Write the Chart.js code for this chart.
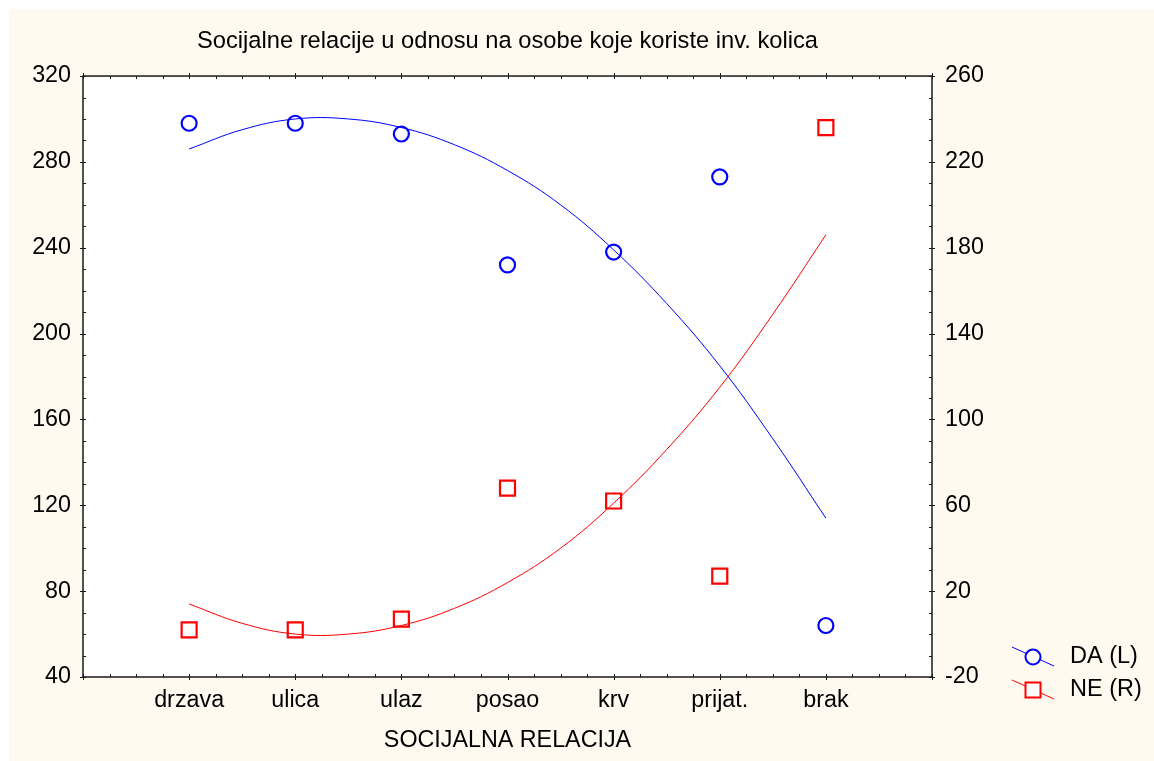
<!DOCTYPE html>
<html>
<head>
<meta charset="utf-8">
<script src="https://cdn.jsdelivr.net/npm/chart.js@4"></script>
<style>
  body { margin: 0; background: #ffffff; }
  #wrap { position: absolute; left: 9px; top: 9px; width: 1145px; height: 752px; background: #fefaf0; }
</style>
</head>
<body>
<div id="wrap"><canvas id="chart1" width="1145" height="752"></canvas></div>
<script>
// Datos
const categorias = ['drzava', 'ulica', 'ulaz', 'posao', 'krv', 'prijat.', 'brak'];
const posiciones = [1, 2, 3, 4, 5, 6, 7];
const valoresDA = [298, 298, 293, 232, 238, 273, 64];
const valoresNE = [2, 2, 7, 68, 62, 27, 236];

// curvas de ajuste, leidas cada media categoria
const ajusteX = [1, 1.5, 2, 2.5, 3, 3.5, 4, 4.5, 5, 5.5, 6, 6.5, 7];
const ajusteDA = [286, 295, 300, 300, 296, 288, 276, 260, 239, 214, 185, 151, 114];
const ajusteNE = [14, 5, 0, 0, 4, 12, 24, 40, 61, 86, 115, 149, 186];

const ticksIzq = [40, 80, 120, 160, 200, 240, 280, 320];
const ticksDer = [-20, 20, 60, 100, 140, 180, 220, 260];

const fuente = 'Liberation Sans, Arial, sans-serif';
const azul = '#0000ff';
const rojo = '#ff0000';

const puntos = (xs, ys) => xs.map((x, i) => ({ x: x, y: ys[i] }));

// fondo blanco del area de trazado
const fondoArea = {
    id: 'fondoArea',
    beforeDraw(chart) {
        const { ctx, chartArea: a } = chart;
        ctx.save();
        ctx.fillStyle = '#ffffff';
        ctx.fillRect(a.left, a.top, a.right - a.left, a.bottom - a.top);
        ctx.restore();
    }
};

// marco y marcas menores hacia dentro
const marco = {
    id: 'marco',
    afterDraw(chart) {
        const { ctx, chartArea: a, scales } = chart;
        ctx.save();
        ctx.strokeStyle = '#1a1a1a';
        ctx.lineWidth = 1.5;
        ctx.strokeRect(a.left, a.top, a.right - a.left, a.bottom - a.top);
        ctx.lineWidth = 1;
        ctx.beginPath();
        for (let v = 0; v <= 8; v += 0.25) {
            const px = Math.round(scales.x.getPixelForValue(v)) + 0.5;
            const m = Number.isInteger(v) ? 3 : 0;
            ctx.moveTo(px, a.bottom + m); ctx.lineTo(px, a.bottom - 3);
            ctx.moveTo(px, a.top - m); ctx.lineTo(px, a.top + 3);
        }
        for (let v = 40; v <= 320; v += 10) {
            const py = Math.round(scales.y.getPixelForValue(v)) + 0.5;
            const m = (v - 40) % 40 === 0 ? 3 : 0;
            ctx.moveTo(a.left - m, py); ctx.lineTo(a.left + 3, py);
        }
        for (let v = -20; v <= 260; v += 10) {
            const py = Math.round(scales.y1.getPixelForValue(v)) + 0.5;
            const m = (v + 20) % 40 === 0 ? 3 : 0;
            ctx.moveTo(a.right + m, py); ctx.lineTo(a.right - 3, py);
        }
        ctx.stroke();
        ctx.restore();
    }
};

// leyenda con linea diagonal que cruza el marcador
const leyenda = {
    id: 'leyenda',
    afterDraw(chart) {
        const ctx = chart.ctx;
        const items = [chart.data.datasets[0], chart.data.datasets[2]];
        ctx.save();
        ctx.font = '23.5px ' + fuente;
        ctx.textBaseline = 'middle';
        ctx.textAlign = 'left';
        items.forEach((ds, i) => {
            const cx = 1024, cy = 648 + i * 33;
            ctx.strokeStyle = ds.borderColor;
            ctx.lineWidth = 1;
            ctx.beginPath();
            ctx.moveTo(cx - 21, cy - 10);
            ctx.lineTo(cx + 21, cy + 9);
            ctx.stroke();
            ctx.lineWidth = 2;
            ctx.fillStyle = '#ffffff';
            ctx.beginPath();
            if (ds.pointStyle === 'rect') {
                ctx.rect(cx - 7.5, cy - 7.5, 15, 15);
            } else {
                ctx.arc(cx, cy, 7.5, 0, Math.PI * 2);
            }
            ctx.fill();
            ctx.stroke();
            ctx.fillStyle = '#000000';
            ctx.fillText(ds.label, cx + 37, cy);
        });
        ctx.restore();
    }
};

const ctx1 = document.getElementById('chart1').getContext('2d');

const chart1 = new Chart(ctx1, {
    type: 'line',
    data: {
        datasets: [{
            label: 'DA (L)',
            data: puntos(posiciones, valoresDA),
            yAxisID: 'y',
            showLine: false,
            pointStyle: 'circle',
            pointRadius: 7.5,
            pointBorderWidth: 2.2,
            borderColor: azul,
            backgroundColor: 'rgba(0,0,0,0)',
            order: 0
        }, {
            label: 'ajuste DA',
            data: puntos(ajusteX, ajusteDA),
            yAxisID: 'y',
            pointRadius: 0,
            borderWidth: 1,
            borderColor: azul,
            tension: 0.4,
            fill: false,
            order: 1
        }, {
            label: 'NE (R)',
            data: puntos(posiciones, valoresNE),
            yAxisID: 'y1',
            showLine: false,
            pointStyle: 'rect',
            pointRadius: 10.6,
            pointBorderWidth: 2.2,
            borderColor: rojo,
            backgroundColor: 'rgba(0,0,0,0)',
            order: 0
        }, {
            label: 'ajuste NE',
            data: puntos(ajusteX, ajusteNE),
            yAxisID: 'y1',
            pointRadius: 0,
            borderWidth: 1,
            borderColor: rojo,
            tension: 0.4,
            fill: false,
            order: 1
        }]
    },
    options: {
        responsive: false,
        animation: false,
        devicePixelRatio: 1,
        layout: { padding: 0 },
        plugins: {
            legend: { display: false },
            tooltip: { enabled: false },
            title: {
                display: true,
                text: 'Socijalne relacije u odnosu na osobe koje koriste inv. kolica',
                color: '#000000',
                fullSize: false,
                font: { family: fuente, size: 23.7, weight: 'normal', lineHeight: 1.2 },
                padding: { top: 18, bottom: 20.6 }
            }
        },
        scales: {
            x: {
                type: 'linear',
                min: 0,
                max: 8,
                afterBuildTicks: (scale) => { scale.ticks = posiciones.map(v => ({ value: v })); },
                afterFit: (scale) => { scale.height = 84; },
                grid: { display: false, drawTicks: false },
                border: { display: false },
                ticks: {
                    color: '#000000',
                    padding: 9.5,
                    maxRotation: 0,
                    autoSkip: false,
                    font: { family: fuente, size: 23.3 },
                    callback: (v) => categorias[v - 1]
                },
                title: {
                    display: true,
                    text: 'SOCIJALNA RELACIJA',
                    color: '#000000',
                    font: { family: fuente, size: 23.3, lineHeight: 1.2 },
                    padding: { top: 0, bottom: 6.2 }
                }
            },
            y: {
                position: 'left',
                min: 40,
                max: 320,
                afterBuildTicks: (scale) => { scale.ticks = ticksIzq.map(v => ({ value: v })); },
                afterFit: (scale) => { scale.width = 74; },
                grid: { display: false, drawTicks: false },
                border: { display: false },
                ticks: { color: '#000000', padding: 12, font: { family: fuente, size: 23.3 } }
            },
            y1: {
                position: 'right',
                min: -20,
                max: 260,
                afterBuildTicks: (scale) => { scale.ticks = ticksDer.map(v => ({ value: v })); },
                afterFit: (scale) => { scale.width = 222; },
                grid: { display: false, drawTicks: false },
                border: { display: false },
                ticks: { color: '#000000', padding: 13, font: { family: fuente, size: 23.3 } }
            }
        }
    },
    plugins: [fondoArea, marco, leyenda]
});
</script>
</body>
</html>
